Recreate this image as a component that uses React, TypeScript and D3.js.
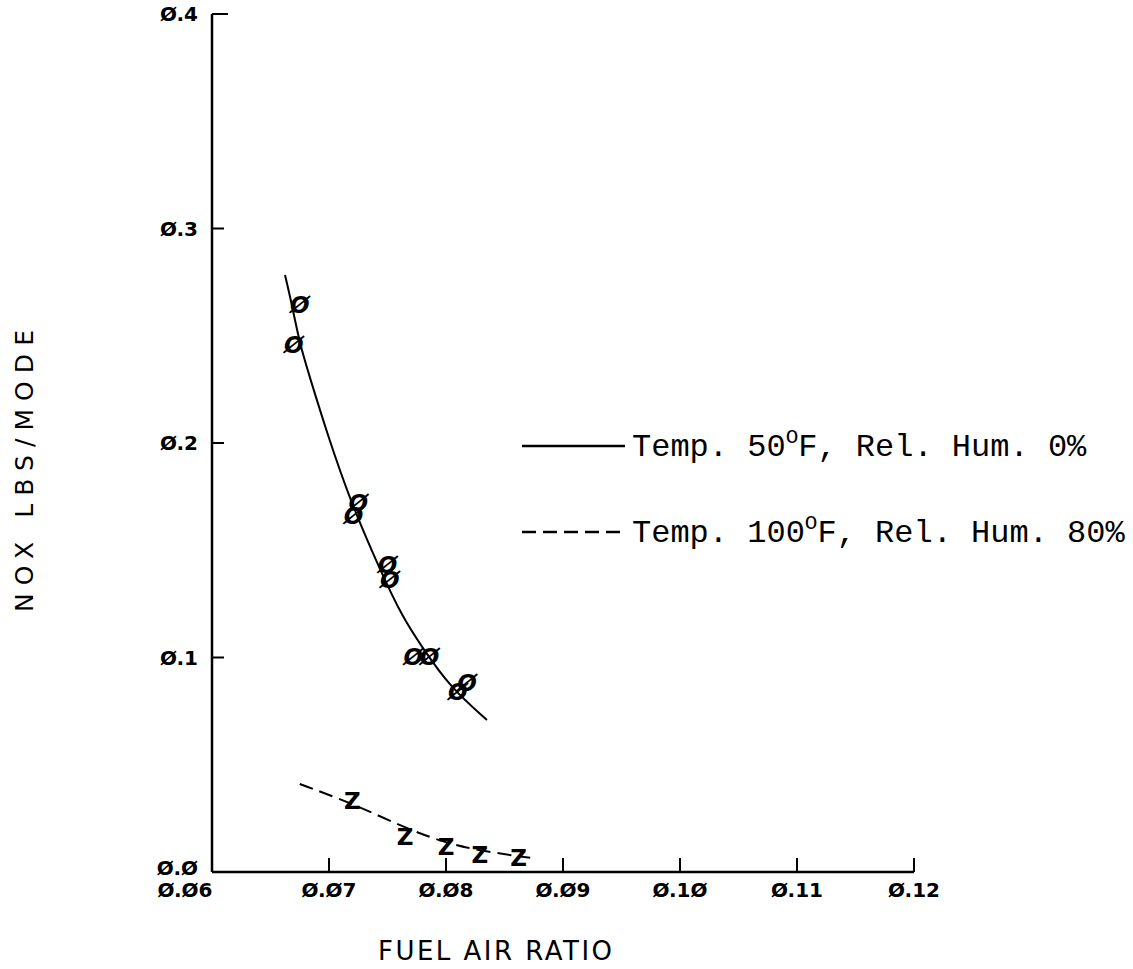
import React from "react";
import * as d3 from "d3";

const xTicks = [0.06, 0.07, 0.08, 0.09, 0.1, 0.11, 0.12];
const xTickLabels = ["Ø.Ø6", "Ø.Ø7", "Ø.Ø8", "Ø.Ø9", "Ø.1Ø", "Ø.11", "Ø.12"];
const yTicks = [0, 0.1, 0.2, 0.3, 0.4];
const yTickLabels = ["Ø.Ø", "Ø.1", "Ø.2", "Ø.3", "Ø.4"];

// Series 1: Temp. 50°F, Rel. Hum. 0% (markers "Ø")
const s1X = [0.0675, 0.067, 0.0725, 0.0721, 0.075, 0.0752, 0.0772, 0.0786, 0.081, 0.0818];
const s1Y = [0.2643, 0.2457, 0.172, 0.166, 0.1431, 0.1361, 0.1002, 0.1002, 0.0839, 0.0881];
// fitted curve, series 1
const fit1X = [0.06624, 0.06684, 0.06752, 0.06838, 0.06983, 0.07179, 0.07436, 0.07632, 0.07795, 0.08034, 0.0835];
const fit1Y = [0.2783, 0.2643, 0.2457, 0.2303, 0.2047, 0.1734, 0.1408, 0.1184, 0.1049, 0.0862, 0.0709];

// Series 2: Temp. 100°F, Rel. Hum. 80% (markers "Z")
const s2X = [0.072, 0.0765, 0.08, 0.0829, 0.0862];
const s2Y = [0.033, 0.0165, 0.0115, 0.008, 0.0065];
// fitted curve, series 2
const fit2X = [0.0675, 0.072, 0.0765, 0.08, 0.083, 0.0872];
const fit2Y = [0.041, 0.032, 0.0205, 0.0135, 0.0098, 0.0066];

const legendLabels = [
  { pre: "Temp. 50", post: "F, Rel. Hum. 0%", dash: "none" },
  { pre: "Temp. 100", post: "F, Rel. Hum. 80%", dash: "14,7" },
];

export default function App() {
  const W = 1133, H = 969;
  const x = d3.scaleLinear().domain([0.06, 0.12]).range([212, 914]);
  const y = d3.scaleLinear().domain([0, 0.4]).range([872, 14]);
  const line = d3
    .line<[number, number]>()
    .x((d) => x(d[0]))
    .y((d) => y(d[1]))
    .curve(d3.curveBasis);
  const fit1 = fit1X.map((v, i) => [v, fit1Y[i]] as [number, number]);
  const fit2 = fit2X.map((v, i) => [v, fit2Y[i]] as [number, number]);
  const tickFont = "'DejaVu Sans', sans-serif";
  return (
    <svg
      width={W}
      height={H}
      style={{ position: "absolute", left: 0, top: 0, background: "#fff" }}
    >
      <rect width={W} height={H} fill="#fff" />
      {/* axes */}
      <line x1={x(0.06)} x2={x(0.06)} y1={y(0.4)} y2={y(0)} stroke="#000" strokeWidth={2.5} />
      <line x1={x(0.06)} x2={x(0.12)} y1={y(0)} y2={y(0)} stroke="#000" strokeWidth={2.5} />
      {yTicks.slice(1).map((t) => (
        <line key={"yt" + t} x1={x(0.06)} x2={x(0.06) + (t === 0.4 ? 16 : 12)} y1={y(t)} y2={y(t)} stroke="#000" strokeWidth={2} />
      ))}
      {xTicks.slice(1).map((t) => (
        <line key={"xt" + t} x1={x(t)} x2={x(t)} y1={y(0)} y2={y(0) - 14} stroke="#000" strokeWidth={2} />
      ))}
      {yTicks.map((t, i) => (
        <text key={"yl" + t} x={x(0.06) - 14} y={y(t) + (i === 0 ? -4 : 0)} dy="0.35em" textAnchor="end" fontFamily={tickFont} fontWeight="bold" fontSize={20}>
          {yTickLabels[i]}
        </text>
      ))}
      {xTicks.map((t, i) => (
        <text key={"xl" + t} x={x(t) + (i === 0 ? -27 : 0)} y={y(0) + 25} textAnchor="middle" fontFamily={tickFont} fontWeight="bold" fontSize={20}>
          {xTickLabels[i]}
        </text>
      ))}
      {/* axis titles */}
      <text
        transform={`translate(33,471) rotate(-90)`}
        textAnchor="middle"
        fontFamily="'DejaVu Sans', sans-serif"
        fontSize={25}
        textLength={282}
        lengthAdjust="spacing"
      >
        NOX LBS/MODE
      </text>
      <text x={495} y={960} textAnchor="middle" fontFamily="'DejaVu Sans', sans-serif" fontSize={26} textLength={234} lengthAdjust="spacing">
        FUEL AIR RATIO
      </text>
      {/* curves */}
      <path d={line(fit1) || ""} fill="none" stroke="#000" strokeWidth={2} />
      <path d={line(fit2) || ""} fill="none" stroke="#000" strokeWidth={2} strokeDasharray="14,7" />
      {/* markers */}
      {s1X.map((v, i) => (
        <text key={"m1" + i} x={x(v)} y={y(s1Y[i])} dy="0.35em" textAnchor="middle" fontFamily="'DejaVu Sans', sans-serif" fontWeight="bold" fontStyle="italic" fontSize={23}>
          Ø
        </text>
      ))}
      {s2X.map((v, i) => (
        <text key={"m2" + i} x={x(v)} y={y(s2Y[i])} dy="0.35em" textAnchor="middle" fontFamily="'DejaVu Sans', sans-serif" fontWeight="bold" fontSize={23}>
          Z
        </text>
      ))}
      {/* legend */}
      {legendLabels.map((l, i) => {
        const ly = 446 + i * 86;
        return (
          <g key={"lg" + i}>
            <line x1={522} x2={625} y1={ly} y2={ly} stroke="#000" strokeWidth={2.5} strokeDasharray={l.dash} />
            <text x={632} y={ly + 10} fontFamily="'Liberation Mono', monospace" fontSize={32}>
              {l.pre}
              <tspan dy={-13} fontSize={21}>O</tspan>
              <tspan dy={13}>{l.post}</tspan>
            </text>
          </g>
        );
      })}
    </svg>
  );
}
